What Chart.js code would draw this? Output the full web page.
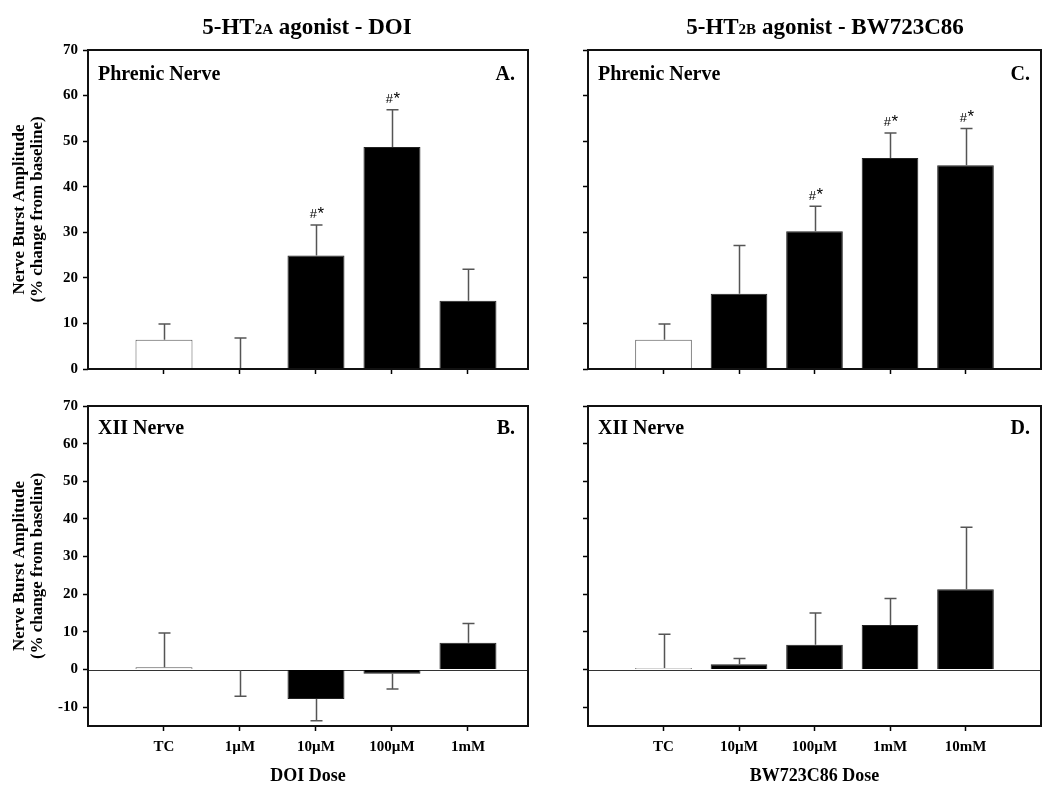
<!DOCTYPE html>
<html><head><meta charset="utf-8">
<script src="https://cdn.jsdelivr.net/npm/chart.js@4.4.0/dist/chart.umd.min.js"></script>
<style>
body{margin:0;background:#fff;width:1050px;height:795px;position:relative;overflow:hidden;font-family:"Liberation Serif","Times New Roman",serif;color:#000;}
canvas{position:absolute;}
.title{position:absolute;font-weight:bold;font-size:23px;white-space:nowrap;transform:translateX(-50%);line-height:26px;}
.sub{font-size:15px;}
.lab{position:absolute;font-weight:bold;font-size:20px;white-space:nowrap;line-height:22px;}
.rlab{position:absolute;font-weight:bold;font-size:20px;white-space:nowrap;line-height:22px;transform:translateX(-100%);}
</style></head><body>
<canvas id="cA" width="560" height="390" style="left:0;top:0"></canvas>
<canvas id="cB" width="560" height="405" style="left:0;top:390px"></canvas>
<canvas id="cC" width="490" height="390" style="left:560px;top:0"></canvas>
<canvas id="cD" width="490" height="405" style="left:560px;top:390px"></canvas>
<div class="title" style="left:307px;top:14px">5-HT<span class="sub">2A</span> agonist - DOI</div>
<div class="title" style="left:825px;top:14px">5-HT<span class="sub">2B</span> agonist - BW723C86</div>
<div class="lab" style="left:98px;top:62px">Phrenic Nerve</div>
<div class="rlab" style="left:515px;top:62px">A.</div>
<div class="lab" style="left:98px;top:416px">XII Nerve</div>
<div class="rlab" style="left:515px;top:416px">B.</div>
<div class="lab" style="left:598px;top:62px">Phrenic Nerve</div>
<div class="rlab" style="left:1030px;top:62px">C.</div>
<div class="lab" style="left:598px;top:416px">XII Nerve</div>
<div class="rlab" style="left:1030px;top:416px">D.</div>
<script>
const FONT = '"Liberation Serif", "Times New Roman", serif';
const SANS = '"Liberation Sans", Arial, sans-serif';

const DOI_DOSES = ['TC', '1µM', '10µM', '100µM', '1mM'];
const BW_DOSES  = ['TC', '10µM', '100µM', '1mM', '10mM'];

const PHRENIC_DOI_MEAN = [6.4, 0.0, 24.9, 48.7, 15.0];
const PHRENIC_DOI_SEM  = [3.5, 6.8, 6.7, 8.2, 6.9];
const PHRENIC_DOI_SIG  = ['', '', '#*', '#*', ''];

const XII_DOI_MEAN = [0.6, -0.2, -7.8, -1.1, 7.1];
const XII_DOI_SEM  = [9.1, 6.9, 5.8, 4.1, 5.1];

const PHRENIC_BW_MEAN = [6.4, 16.5, 30.2, 46.3, 44.7];
const PHRENIC_BW_SEM  = [3.5, 10.6, 5.5, 5.5, 8.1];
const PHRENIC_BW_SIG  = ['', '', '#*', '#*', '#*'];

const XII_BW_MEAN = [0.4, 1.4, 6.6, 11.8, 21.3];
const XII_BW_SEM  = [9.0, 1.5, 8.4, 7.1, 16.5];

const Y_TICKS_TOP    = [0, 10, 20, 30, 40, 50, 60, 70];
const Y_TICKS_BOTTOM = [-10, 0, 10, 20, 30, 40, 50, 60, 70];

const Y_TITLE = ['Nerve Burst Amplitude', '(% change from baseline)'];

const decor = {
  id: 'decor',
  beforeDatasetsDraw(chart, args, o) {
    if (!o.zeroLine) return;
    const {ctx, chartArea: ca, scales: {y}} = chart;
    const yp = Math.round(y.getPixelForValue(0)) + 0.5;
    ctx.save();
    ctx.strokeStyle = '#333'; ctx.lineWidth = 1.2;
    ctx.beginPath(); ctx.moveTo(ca.left, yp); ctx.lineTo(ca.right, yp); ctx.stroke();
    ctx.restore();
  },
  afterDatasetsDraw(chart, args, o) {
    const {ctx, chartArea: ca, scales: {x, y}} = chart;
    const ds = chart.data.datasets[0];
    ctx.save();
    ds.data.forEach((pt, i) => {
      const e = o.sem[i];
      const dir = pt.y < 0 ? -1 : 1;
      const xp = Math.round(x.getPixelForValue(pt.x)) + 0.5;
      const y0 = y.getPixelForValue(pt.y);
      const y1 = y.getPixelForValue(pt.y + dir * e);
      ctx.strokeStyle = '#555'; ctx.lineWidth = 1.5;
      ctx.beginPath();
      ctx.moveTo(xp, y0); ctx.lineTo(xp, y1);
      ctx.moveTo(xp - 6, y1); ctx.lineTo(xp + 6, y1);
      ctx.stroke();
      const s = o.sig ? o.sig[i] : '';
      if (s) {
        ctx.fillStyle = '#000';
        ctx.textBaseline = 'alphabetic';
        ctx.font = '13px ' + SANS;
        ctx.textAlign = 'right';
        ctx.fillText(s[0], xp + 0.5, y1 - 6.5);
        ctx.font = '17px ' + SANS;
        ctx.textAlign = 'left';
        ctx.fillText(s.slice(1), xp + 1, y1 - 6);
      }
    });
    ctx.strokeStyle = '#111'; ctx.lineWidth = 2;
    ctx.strokeRect(ca.left, ca.top, ca.right - ca.left, ca.bottom - ca.top);
    ctx.restore();
  }
};

function panel(id, c) {
  const data = c.doses.map((d, i) => ({x: i + 1, y: c.mean[i]}));
  return new Chart(document.getElementById(id), {
    type: 'bar',
    data: {datasets: [{
      data,
      backgroundColor: ctx => ctx.dataIndex === 0 ? '#fff' : '#000',
      borderColor: ctx => ctx.dataIndex === 0 ? '#555' : '#222',
      borderWidth: 1,
      categoryPercentage: 1,
      barPercentage: 0.75
    }]},
    options: {
      responsive: false, animation: false, devicePixelRatio: 1,
      layout: {padding: {top: c.padTop, right: c.padRight, left: 0, bottom: 0}},
      plugins: {legend: {display: false}, tooltip: {enabled: false},
        decor: {sem: c.sem, sig: c.sig, zeroLine: c.zeroLine}},
      scales: {
        x: {
          type: 'linear', min: 0, max: c.xMax, offset: false,
          afterBuildTicks: s => { s.ticks = c.doses.map((d, i) => ({value: i + 1})); },
          afterFit: s => { s.height = c.xH; },
          ticks: {display: c.xLabels, autoSkip: false, maxRotation: 0, padding: 7,
            callback: v => c.doses[v - 1], color: '#000',
            font: {family: FONT, size: 15, weight: 'bold'}},
          grid: {display: true, offset: false, drawOnChartArea: false, drawTicks: true, tickLength: 5, tickColor: '#000', tickWidth: 1.5},
          border: {display: false},
          title: {display: !!c.xTitle, text: c.xTitle || '', color: '#000',
            font: {family: FONT, size: 18, weight: 'bold'}, padding: {top: 0, bottom: 8}}
        },
        y: {
          min: c.yMin, max: c.yMax,
          afterBuildTicks: s => { s.ticks = c.yTicks.map(v => ({value: v})); },
          afterFit: s => { s.width = c.yW; },
          ticks: {display: c.yLabels, padding: 5, color: '#000',
            font: {family: FONT, size: 15, weight: 'bold'}},
          grid: {display: true, drawOnChartArea: false, drawTicks: true, tickLength: 5, tickColor: '#000', tickWidth: 1.5},
          border: {display: false},
          title: {display: c.yLabels, text: Y_TITLE, color: '#000',
            font: {family: FONT, size: 17, weight: 'bold', lineHeight: 1.05}, padding: {top: 11}}
        }
      }
    },
    plugins: [decor]
  });
}

const LEFT_XMAX = 5.79;
const RIGHT_XMAX = 6;

panel('cA', {doses: DOI_DOSES, mean: PHRENIC_DOI_MEAN, sem: PHRENIC_DOI_SEM, sig: PHRENIC_DOI_SIG,
  yMin: 0, yMax: 70, yTicks: Y_TICKS_TOP, yLabels: true, xLabels: false, xMax: LEFT_XMAX,
  yW: 88, xH: 21, padTop: 50, padRight: 32, zeroLine: false});
panel('cB', {doses: DOI_DOSES, mean: XII_DOI_MEAN, sem: XII_DOI_SEM, sig: null,
  yMin: -15, yMax: 70, yTicks: Y_TICKS_BOTTOM, yLabels: true, xLabels: true, xTitle: 'DOI Dose', xMax: LEFT_XMAX,
  yW: 88, xH: 69, padTop: 16, padRight: 32, zeroLine: true});
panel('cC', {doses: BW_DOSES, mean: PHRENIC_BW_MEAN, sem: PHRENIC_BW_SEM, sig: PHRENIC_BW_SIG,
  yMin: 0, yMax: 70, yTicks: Y_TICKS_TOP, yLabels: false, xLabels: false, xMax: RIGHT_XMAX,
  yW: 28, xH: 21, padTop: 50, padRight: 9, zeroLine: false});
panel('cD', {doses: BW_DOSES, mean: XII_BW_MEAN, sem: XII_BW_SEM, sig: null,
  yMin: -15, yMax: 70, yTicks: Y_TICKS_BOTTOM, yLabels: false, xLabels: true, xTitle: 'BW723C86 Dose', xMax: RIGHT_XMAX,
  yW: 28, xH: 69, padTop: 16, padRight: 9, zeroLine: true});
</script>
</body></html>
